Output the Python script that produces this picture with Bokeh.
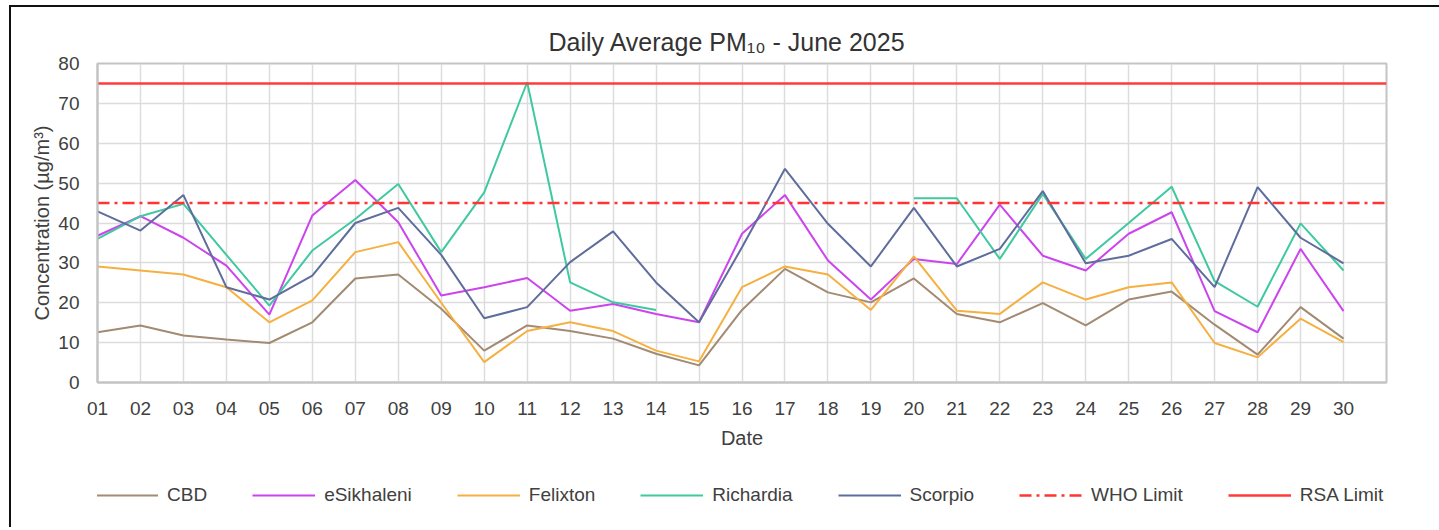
import numpy as np
from bokeh.plotting import figure
from bokeh.layouts import column
from bokeh.models import Legend, LegendItem, FixedTicker, Range1d
from bokeh.embed import file_html
from bokeh.resources import INLINE

# ---- data ----
days = list(range(1, 31))
day_labels = [f"{d:02d}" for d in days]

cbd = [12.6, 14.3, 11.8, 10.8, 9.9, 15.1, 26.1, 27.1, 18.5, 8.0,
       14.3, 12.9, 11.0, 7.2, 4.3, 18.2, 28.5, 22.6, 20.1, 26.1,
       17.2, 15.1, 19.9, 14.3, 20.8, 22.8, 14.5, 7.0, 18.9, 11.0]
esikhaleni = [36.8, 41.7, 36.3, 29.3, 17.0, 41.9, 50.8, 40.2, 21.8, 23.9,
              26.2, 18.0, 19.7, 17.2, 15.1, 37.3, 47.0, 30.6, 20.8, 31.0,
              29.7, 44.6, 31.8, 28.1, 37.3, 42.7, 17.9, 12.6, 33.5, 17.9]
felixton = [29.1, 28.1, 27.1, 23.9, 15.1, 20.6, 32.7, 35.2, 20.0, 5.1,
            12.9, 15.1, 12.9, 8.0, 5.3, 23.9, 29.1, 27.1, 18.2, 31.6,
            18.0, 17.2, 25.1, 20.8, 23.9, 25.1, 9.9, 6.3, 16.0, 10.1]
nan = float("nan")
richardia = [36.0, 41.7, 44.8, 32.0, 19.3, 33.1, 41.0, 49.8, 32.7, 47.7,
             75.3, 25.1, 20.1, 18.2, nan, nan, nan, nan, nan, 46.2,
             46.2, 31.0, 47.3, 31.0, 40.0, 49.1, 25.4, 19.0, 39.9, 28.1]
scorpio = [42.9, 38.1, 47.0, 23.9, 20.8, 26.8, 40.0, 43.8, 32.0, 16.1,
           18.9, 30.2, 37.9, 25.1, 15.1, 33.9, 53.6, 39.8, 29.1, 43.8,
           29.1, 33.5, 48.0, 29.9, 31.8, 36.0, 23.9, 49.0, 36.3, 29.9]
who_limit = 45
rsa_limit = 75
y_ticks = list(range(0, 81, 10))

series_names = ["CBD", "eSikhaleni", "Felixton", "Richardia", "Scorpio",
                "WHO Limit", "RSA Limit"]
series_colors = ["#a38a72", "#cc44ee", "#f5b041", "#3fc9a0", "#5e6d9c",
                 "#ff3535", "#ff3b3b"]
series_widths = [2, 2, 2, 2, 2, 2.5, 2.5]
series_dashes = ["solid"] * 5 + ["12 5 3 5", "solid"]

FONT = "Liberation Sans"
TXT = "#404040"

range_end = days[-1] + 1
p = figure(width=1428, height=448, output_backend="svg", toolbar_location=None,
           x_range=Range1d(days[0], range_end), y_range=Range1d(0, 80),
           min_border_left=86, min_border_right=53, min_border_top=56,
           min_border_bottom=73, background_fill_color="white",
           border_fill_color="white")

p.title.text = "Daily Average  PM\u2081\u2080 - June  2025"
p.title.align = "left"
p.title.text_font = FONT
p.title.text_font_size = "25px"
p.title.text_font_style = "normal"
p.title.text_color = "#333333"
p.title.standoff = 15
p.title.offset = 451

# axes
p.xaxis.ticker = FixedTicker(ticks=days)
p.xaxis.major_label_overrides = {d: l for d, l in zip(days, day_labels)}
p.xaxis.axis_label = "Date"
p.yaxis.ticker = FixedTicker(ticks=y_ticks)
p.yaxis.axis_label = "Concentration (\u00b5g/m\u00b3)"
for ax in (p.xaxis[0], p.yaxis[0]):
    ax.major_tick_line_color = None
    ax.minor_tick_line_color = None
    ax.axis_line_color = "#c4c4c4"
    ax.axis_line_width = 2
    ax.major_label_text_font = FONT
    ax.major_label_text_font_size = "19px"
    ax.major_label_text_color = TXT
    ax.axis_label_text_font = FONT
    ax.axis_label_text_font_size = "20px"
    ax.axis_label_text_font_style = "normal"
    ax.axis_label_text_color = TXT
p.xaxis.major_label_standoff = 13
p.xaxis.axis_label_standoff = 9
p.yaxis.major_label_standoff = 12
p.yaxis.axis_label_standoff = 2

p.xgrid.ticker = FixedTicker(ticks=days)
p.ygrid.ticker = FixedTicker(ticks=y_ticks)
for g in (p.xgrid[0], p.ygrid[0]):
    g.grid_line_color = "#dcdcdc"
    g.grid_line_width = 1.5
p.outline_line_color = "#c4c4c4"
p.outline_line_width = 2

# series
values = [cbd, esikhaleni, felixton, np.array(richardia), scorpio]
for vals, c, w, d in zip(values, series_colors, series_widths, series_dashes):
    p.line(days, vals, line_color=c, line_width=w, line_dash=d)
lim_x = [days[0], range_end]
for lim, c, w, d in zip([who_limit, rsa_limit], series_colors[5:],
                        series_widths[5:], series_dashes[5:]):
    p.line(lim_x, [lim] * 2, line_color=c, line_width=w, line_dash=d)

# legend strip below the chart (its view range shows no data, only the legend)
leg = figure(width=1428, height=72, output_backend="svg", toolbar_location=None,
             x_range=Range1d(days[0], range_end), y_range=Range1d(-20, -10),
             min_border_left=0, min_border_right=0, min_border_top=0,
             min_border_bottom=0, background_fill_color="white",
             border_fill_color="white")
leg.axis.visible = False
leg.grid.visible = False
leg.outline_line_color = None
all_vals = values + [[who_limit] * len(days), [rsa_limit] * len(days)]
items = []
for name, vals, c, w, d in zip(series_names, all_vals, series_colors,
                               series_widths, series_dashes):
    r = leg.line(days, vals, line_color=c, line_width=w, line_dash=d)
    items.append(LegendItem(label=name, renderers=[r]))
legend = Legend(items=items, orientation="horizontal", location=(-2, 21),
                spacing=45, glyph_width=63, glyph_height=20, label_standoff=9,
                padding=0, margin=0, border_line_color=None,
                background_fill_alpha=0, label_text_font=FONT,
                label_text_font_size="19px", label_text_color=TXT)
leg.add_layout(legend)

layout = column(p, leg, spacing=0)
layout.margin = (5, 0, 0, 9)
layout.styles = {"border-top": "2px solid #111111", "border-left": "2px solid #111111"}

open("out.html", "w").write(file_html(layout, INLINE))
